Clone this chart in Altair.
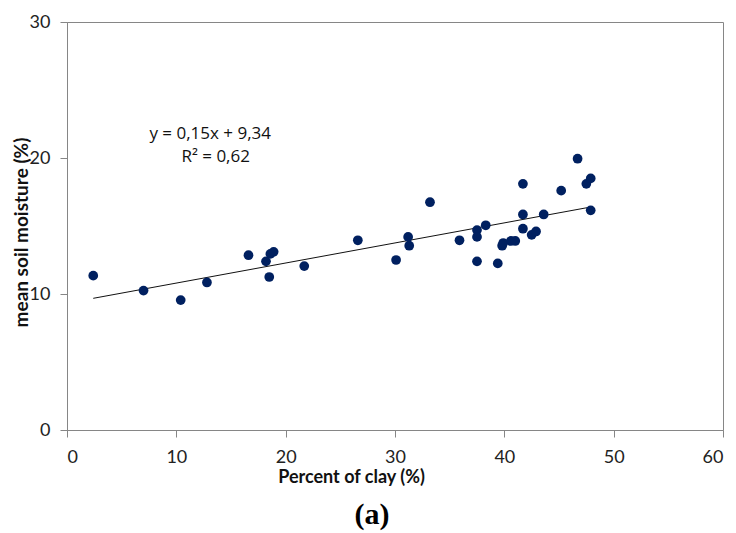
import altair as alt
import pandas as pd

clay = [2.4, 7.0, 10.4, 12.8, 16.6, 18.2, 18.6, 18.9, 18.5, 21.7,
        26.6, 30.1, 31.2, 31.3, 33.2, 35.9, 37.5, 37.5, 37.5, 38.3,
        39.4, 39.8, 39.9, 40.6, 41.0, 41.7, 41.7, 41.7, 42.5, 42.9,
        43.6, 45.2, 46.7, 47.5, 47.9, 47.9]
moisture = [11.35, 10.25, 9.55, 10.85, 12.85, 12.4, 12.95, 13.1, 11.25, 12.05,
            13.95, 12.5, 14.2, 13.55, 16.75, 13.95, 14.7, 14.2, 12.4, 15.05,
            12.25, 13.55, 13.75, 13.9, 13.9, 18.1, 15.85, 14.8, 14.35, 14.6,
            15.85, 17.6, 19.95, 18.1, 18.5, 16.15]

eq_lines = ["y = 0,15x + 9,34", "R² = 0,62"]
eq_x = [13.1, 13.6]
eq_y = [21.75, 20.1]

df = pd.DataFrame({"clay": clay, "moisture": moisture})
eq_df = pd.DataFrame({"label": eq_lines, "x": eq_x, "y": eq_y})

gray = "#868686"
FONT = "Lato"

xscale = alt.Scale(domain=[0, 60], nice=False)
yscale = alt.Scale(domain=[0, 30], nice=False)

xaxis = alt.Axis(values=[0, 10, 20, 30, 40, 50, 60], title="Percent of clay (%)",
                 grid=False, domainColor=gray, tickColor=gray, tickSize=7,
                 labelFont=FONT, labelFontSize=18, labelColor="#222222", labelPadding=11,
                 titleFont=FONT, titleFontSize=18, titleFontWeight="bold",
                 titleColor="#111111", titlePadding=2, titleX=284, titleAlign="center")
yaxis = alt.Axis(values=[0, 10, 20, 30], title="mean soil moisture (%)",
                 grid=False, domainColor=gray, tickColor=gray, tickSize=7,
                 labelFont=FONT, labelFontSize=18, labelColor="#222222", labelPadding=10,
                 titleFont=FONT, titleFontSize=19, titleFontWeight="bold",
                 titleColor="#111111", titleX=-46, titleY=210,
                 titleAlign="center", titleBaseline="middle", titleAngle=270)

points = alt.Chart(df).mark_circle(size=95, color="#002060", opacity=1).encode(
    x=alt.X("clay:Q", scale=xscale, axis=xaxis),
    y=alt.Y("moisture:Q", scale=yscale, axis=yaxis),
)

trend = alt.Chart(df).transform_regression("clay", "moisture").mark_line(
    color="#111111", strokeWidth=1
).encode(
    x=alt.X("clay:Q", scale=xscale),
    y=alt.Y("moisture:Q", scale=yscale),
)

eq = alt.Chart(eq_df).mark_text(font="Open Sans", fontSize=17, color="#111111", align="center").encode(
    x=alt.X("x:Q", scale=xscale),
    y=alt.Y("y:Q", scale=yscale),
    text="label:N",
)

chart = alt.layer(trend, points, eq).properties(
    width=656, height=408,
    padding={"left": 59, "top": 14, "right": 4, "bottom": 103},
    autosize=alt.AutoSizeParams(type="none"),
    title=alt.TitleParams("(a)", orient="bottom", font="Liberation Serif",
                          fontSize=30, fontWeight="bold", color="#000000",
                          offset=14, dx=-23),
).configure_view(stroke=gray, strokeWidth=1)

chart.save("out.html", embed_options={"renderer": "svg", "actions": False})
